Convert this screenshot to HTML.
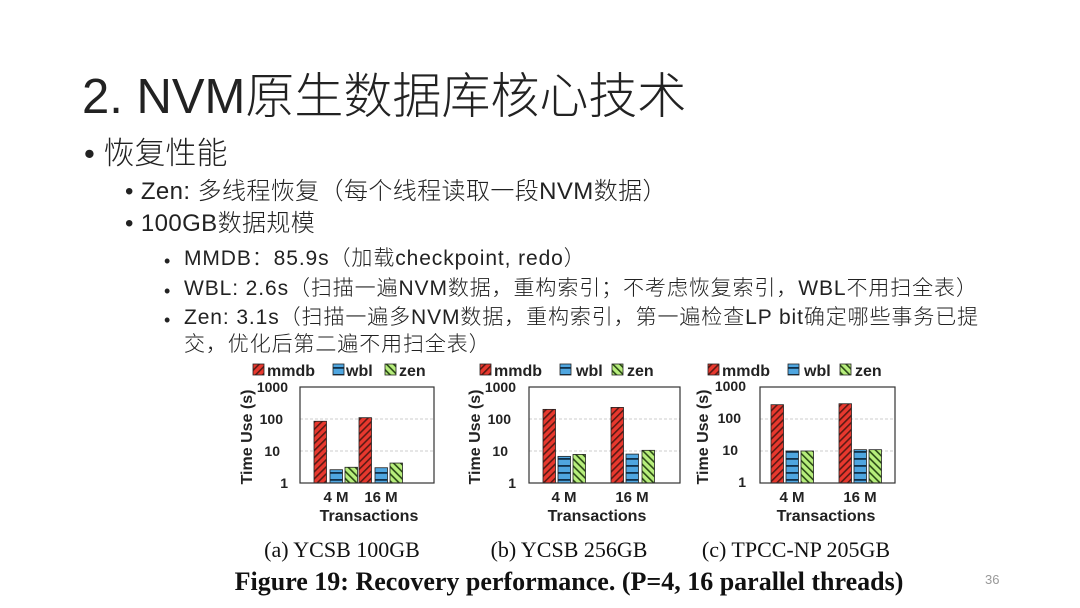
<!DOCTYPE html>
<html><head><meta charset="utf-8"><style>
body{margin:0;background:#fff}
#s{position:relative;width:1080px;height:608px;overflow:hidden;background:#fff;font-family:"Liberation Sans","Noto Sans CJK SC",sans-serif;color:#222}
.t{position:absolute;white-space:nowrap;font-weight:300}
.l3{font-size:21px;letter-spacing:0.9px}
.b3{font-size:18px}
</style></head><body><div id="s">
<div class="t" style="left:82px;top:57px;font-size:49px;letter-spacing:0px">2. NVM原生数据库核心技术</div>
<div class="t" style="left:84px;top:128px;font-size:31px">• 恢复性能</div>
<div class="t" style="left:125px;top:171px;font-size:24px;letter-spacing:0.4px">• Zen: 多线程恢复（每个线程读取一段NVM数据）</div>
<div class="t" style="left:125px;top:203px;font-size:24px;letter-spacing:0.4px">• 100GB数据规模</div>
<div class="t b3" style="left:164px;top:251px">•</div>
<div class="t b3" style="left:164px;top:281px">•</div>
<div class="t b3" style="left:164px;top:310px">•</div>
<div class="t l3" style="left:184px;top:242px">MMDB：85.9s（加载checkpoint, redo）</div>
<div class="t l3" style="left:184px;top:272px">WBL: 2.6s（扫描一遍NVM数据，重构索引；不考虑恢复索引，WBL不用扫全表）</div>
<div class="t l3" style="left:184px;top:301px">Zen: 3.1s（扫描一遍多NVM数据，重构索引，第一遍检查LP bit确定哪些事务已提</div>
<div class="t l3" style="left:184px;top:328px">交，优化后第二遍不用扫全表）</div>
<svg width="1080" height="608" style="position:absolute;left:0;top:0" font-family="Liberation Sans, sans-serif">
<defs>
<pattern id="pr" width="5" height="5" patternUnits="userSpaceOnUse" patternTransform="rotate(45)"><rect width="5" height="5" fill="#e8382e"/><rect width="1.6" height="5" fill="#5a1a14"/></pattern>
<pattern id="pb" width="6" height="7" patternUnits="userSpaceOnUse"><rect width="6" height="7" fill="#4fa6e0"/><rect y="3" width="6" height="1.8" fill="#10304a"/></pattern>
<pattern id="pg" width="5" height="5" patternUnits="userSpaceOnUse" patternTransform="rotate(-45)"><rect width="5" height="5" fill="#b7ee7c"/><rect width="1.6" height="5" fill="#2b4a16"/></pattern>
</defs>
<g id="charts"></g>
<g font-family="Liberation Serif, serif" font-size="22" fill="#111" text-anchor="middle">
<text x="342" y="557">(a) YCSB 100GB</text>
<text x="569" y="557">(b) YCSB 256GB</text>
<text x="796" y="557">(c) TPCC-NP 205GB</text>
<text x="569" y="590" font-weight="bold" font-size="26">Figure 19: Recovery performance. (P=4, 16 parallel threads)</text>
</g>
<text x="985" y="584" font-size="13" fill="#999">36</text>
<g font-weight="bold" fill="#222" font-size="16">
<text x="267" y="376">mmdb</text><text x="346" y="376">wbl</text><text x="399" y="376">zen</text>
<text x="494" y="376">mmdb</text><text x="576" y="376">wbl</text><text x="627" y="376">zen</text>
<text x="722" y="376">mmdb</text><text x="804" y="376">wbl</text><text x="855" y="376">zen</text>
</g>
<g font-weight="bold" fill="#222" font-size="14" text-anchor="end">
<text x="288" y="392">1000</text><text x="283" y="424">100</text><text x="280" y="456">10</text><text x="288" y="488">1</text>
<text x="516" y="392">1000</text><text x="511" y="424">100</text><text x="508" y="456">10</text><text x="516" y="488">1</text>
<text x="746" y="391">1000</text><text x="741" y="423">100</text><text x="738" y="455">10</text><text x="746" y="487">1</text>
</g>
<g font-weight="bold" fill="#222" font-size="16" text-anchor="middle">
<text transform="translate(252,437) rotate(-90)">Time Use (s)</text>
<text transform="translate(480,437) rotate(-90)">Time Use (s)</text>
<text transform="translate(708,437) rotate(-90)">Time Use (s)</text>
<text x="336" y="502" font-size="15">4 M</text><text x="381" y="502" font-size="15">16 M</text>
<text x="564" y="502" font-size="15">4 M</text><text x="632" y="502" font-size="15">16 M</text>
<text x="792" y="502" font-size="15">4 M</text><text x="860" y="502" font-size="15">16 M</text>
<text x="369" y="521">Transactions</text><text x="597" y="521">Transactions</text><text x="826" y="521">Transactions</text>
</g>
</svg>
<script>
var g=document.getElementById('charts'),h='';
function Y(v){return 483-32*Math.log10(v);}
var C=[
 {x0:300,x1:434,top:387,bars:[[314,85,'pr'],[330,2.6,'pb'],[345,3.1,'pg'],[359,110,'pr'],[375,3,'pb'],[390,4.2,'pg']],lg:253},
 {x0:529,x1:680,top:387,bars:[[543,200,'pr'],[558,6.8,'pb'],[573,7.8,'pg'],[611,230,'pr'],[626,8,'pb'],[642,10.5,'pg']],lg:480},
 {x0:760,x1:895,top:387,bars:[[771,280,'pr'],[786,10,'pb'],[801,10,'pg'],[839,300,'pr'],[854,11,'pb'],[869,11,'pg']],lg:708}];
C.forEach(function(c){
 [100,10].forEach(function(v){h+='<line x1="'+c.x0+'" x2="'+c.x1+'" y1="'+Y(v)+'" y2="'+Y(v)+'" stroke="#ccc" stroke-dasharray="3,2"/>';});
 c.bars.forEach(function(b){var y=Y(b[1]);h+='<rect x="'+b[0]+'" y="'+y+'" width="12.5" height="'+(483-y)+'" fill="url(#'+b[2]+')" stroke="#222" stroke-width="0.8"/>';});
 h+='<rect x="'+c.x0+'" y="'+c.top+'" width="'+(c.x1-c.x0)+'" height="'+(483-c.top)+'" fill="none" stroke="#333" stroke-width="1.2"/>';
 var L=c.lg;[[L,'pr'],[L+80,'pb'],[L+132,'pg']].forEach(function(q){h+='<rect x="'+q[0]+'" y="364" width="11" height="11" fill="url(#'+q[1]+')" stroke="#222" stroke-width="0.8"/>';});
});
g.innerHTML=h;
</script>
</div></body></html>
